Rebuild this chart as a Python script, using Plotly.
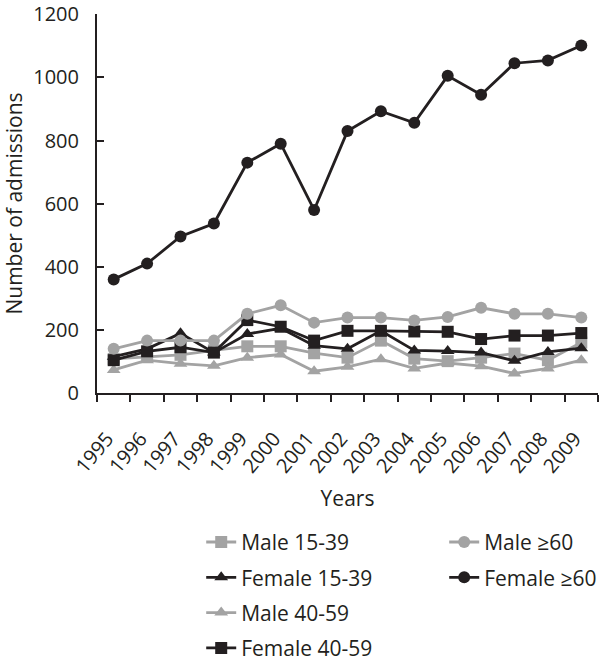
import plotly.graph_objects as go

years = ["1995", "1996", "1997", "1998", "1999", "2000", "2001", "2002",
         "2003", "2004", "2005", "2006", "2007", "2008", "2009"]

male_15_39 = [108, 115, 121, 135, 148, 148, 126, 112, 166, 109, 101, 112, 125, 104, 160]
female_15_39 = [115, 140, 189, 128, 187, 205, 150, 140, 197, 135, 133, 128, 102, 130, 142]
male_40_59 = [73, 104, 93, 86, 112, 122, 69, 83, 107, 78, 95, 85, 62, 78, 104]
female_40_59 = [104, 132, 145, 128, 231, 210, 166, 197, 197, 195, 194, 171, 182, 182, 190]
male_60 = [140, 166, 166, 166, 251, 278, 223, 239, 239, 230, 241, 270, 251, 251, 239]
female_60 = [360, 410, 496, 537, 730, 790, 580, 830, 893, 856, 1005, 945, 1045, 1054, 1101]

y_ticks = [0, 200, 400, 600, 800, 1000, 1200]

BLACK = "#231f20"
GRAY = "#a3a3a3"
FONT = "Open Sans"
FS = 21
TFS = 20

series = [
    ("Male 15-39", male_15_39, GRAY, "square", "legend"),
    ("Female 15-39", female_15_39, BLACK, "triangle-up", "legend"),
    ("Male 40-59", male_40_59, GRAY, "triangle-up", "legend"),
    ("Female 40-59", female_40_59, BLACK, "square", "legend"),
    ("Male \u226560", male_60, GRAY, "circle", "legend2"),
    ("Female \u226560", female_60, BLACK, "circle", "legend2"),
]

fig = go.Figure()
for name, vals, col, sym, leg in series:
    fig.add_trace(go.Scatter(
        x=years, y=vals, name=name, mode="lines+markers",
        line=dict(color=col, width=2.8),
        marker=dict(symbol=sym, size=12, color=col),
        legend=leg, legendgroup=name,
    ))

fig.update_layout(
    width=600, height=666,
    margin=dict(l=97, r=2, t=14, b=273, autoexpand=False),
    paper_bgcolor="white", plot_bgcolor="white",
    font=dict(family=FONT, size=FS, color="#231f20"),
    legend=dict(x=0.208, y=-0.34, xanchor="left", yanchor="top",
                orientation="v", tracegroupgap=5, itemwidth=30,
                font=dict(size=FS), bgcolor="rgba(0,0,0,0)"),
    legend2=dict(x=0.693, y=-0.34, xanchor="left", yanchor="top",
                 orientation="v", tracegroupgap=5, itemwidth=30,
                 font=dict(size=FS), bgcolor="rgba(0,0,0,0)"),
)

fig.update_xaxes(
    type="category", range=[-0.5, 14.5],
    tickvals=years, ticktext=[y + "\u00a0\u00a0" for y in years],
    showline=True, linecolor=BLACK, linewidth=2,
    ticks="outside", tickson="boundaries", ticklen=7, tickwidth=2, tickcolor=BLACK,
    tickangle=-50, showgrid=False, zeroline=False, ticklabelstandoff=16,
    tickfont=dict(size=TFS),
    title=dict(text="Years", font=dict(size=FS), standoff=14),
)
fig.update_yaxes(
    range=[0, 1201], tickvals=y_ticks,
    showline=True, linecolor=BLACK, linewidth=2,
    ticks="inside", ticklen=7, tickwidth=2, tickcolor=BLACK,
    showgrid=False, zeroline=False, ticklabelstandoff=12,
    ticklabeloverflow="allow",
    tickfont=dict(size=TFS),
    title=dict(text="Number of admissions", font=dict(size=FS), standoff=14),
)

fig.write_html("out.html", config={"displayModeBar": False},
               post_script="document.body.style.margin='0';")
